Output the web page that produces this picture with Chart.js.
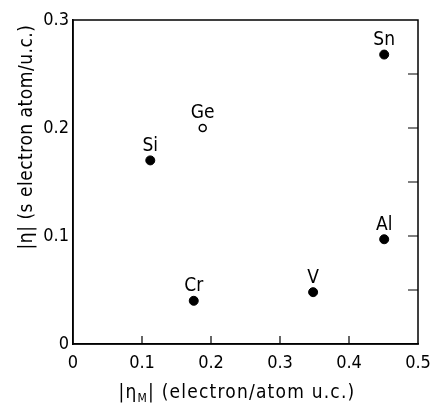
<!DOCTYPE html>
<html>
<head>
<meta charset="utf-8">
<script src="https://cdn.jsdelivr.net/npm/chart.js@4"></script>
<style>
  html, body { margin: 0; padding: 0; background: #fff; }
  canvas { display: block; }
</style>
</head>
<body>
<canvas id="chart" width="430" height="404"></canvas>
<script>
// element names and their values
const elements = ['Si', 'Ge', 'Cr', 'V', 'Al', 'Sn'];
const etaM = [0.112, 0.188, 0.175, 0.348, 0.451, 0.451];
const eta = [0.170, 0.200, 0.040, 0.048, 0.097, 0.268];
const openMarker = [false, true, false, false, false, false];

const xTicks = [0, 0.1, 0.2, 0.3, 0.4, 0.5];
const yTicks = [0, 0.1, 0.2, 0.3];
const yMinorTicks = [0.05, 0.1, 0.15, 0.2, 0.25];

const FONT = '"DejaVu Sans Condensed", "DejaVu Sans", sans-serif';

function pointsFor(open) {
    const pts = [];
    for (let i = 0; i < elements.length; i++) {
        if (openMarker[i] === open) pts.push({ x: etaM[i], y: eta[i], name: elements[i] });
    }
    return pts;
}

function fmt(v) {
    return v === 0 ? '0' : v.toFixed(1);
}

function drawParts(ctx, parts, cx, baseY, spacing) {
    let total = 0;
    ctx.letterSpacing = spacing + 'px';
    parts.forEach(p => {
        ctx.font = p.size + 'px ' + FONT;
        p.w = ctx.measureText(p.t).width;
        total += p.w;
    });
    let x = cx - total / 2;
    ctx.textAlign = 'left';
    ctx.textBaseline = 'alphabetic';
    parts.forEach(p => {
        ctx.font = p.size + 'px ' + FONT;
        ctx.fillText(p.t, x, baseY + p.dy);
        x += p.w;
    });
    ctx.letterSpacing = '0px';
}

// frame, inward ticks, point names and the axis titles
const decorations = {
    id: 'decorations',
    afterDraw(chart) {
        const ctx = chart.ctx;
        const area = chart.chartArea;
        const xs = chart.scales.x;
        const ys = chart.scales.y;
        ctx.save();
        ctx.strokeStyle = '#000';
        ctx.lineWidth = 1.5;
        ctx.strokeRect(area.left, area.top, area.right - area.left, area.bottom - area.top);

        ctx.lineWidth = 1.2;
        ctx.beginPath();
        xTicks.slice(1, -1).forEach(v => {
            const px = xs.getPixelForValue(v);
            ctx.moveTo(px, area.bottom);
            ctx.lineTo(px, area.bottom - 8);
        });
        yMinorTicks.forEach(v => {
            const py = ys.getPixelForValue(v);
            ctx.moveTo(area.right, py);
            ctx.lineTo(area.right - 10, py);
        });
        ctx.stroke();

        ctx.fillStyle = '#000';
        ctx.font = '19px ' + FONT;
        ctx.textAlign = 'center';
        ctx.textBaseline = 'bottom';
        chart.data.datasets.forEach((ds, di) => {
            const meta = chart.getDatasetMeta(di);
            meta.data.forEach((el, i) => {
                ctx.fillText(ds.data[i].name, el.x, el.y - 5);
            });
        });

        // x axis title: |η_M| (electron/atom u.c.)
        drawParts(ctx, [
            { t: '|η', size: 19, dy: 0 },
            { t: 'M', size: 12, dy: 4 },
            { t: '| (electron/atom u.c.)', size: 19, dy: 0 }
        ], 237, 398, 1.2);

        // y axis title, rotated
        ctx.save();
        ctx.translate(32, 137);
        ctx.rotate(-Math.PI / 2);
        drawParts(ctx, [{ t: '|η| (s electron atom/u.c.)', size: 19, dy: 0 }], 0, 0, 0.5);
        ctx.restore();
        ctx.restore();
    }
};

const ctx = document.getElementById('chart').getContext('2d');
new Chart(ctx, {
    type: 'scatter',
    data: {
        datasets: [{
            label: 'filled',
            data: pointsFor(false),
            pointRadius: 4.5,
            pointBackgroundColor: '#000',
            pointBorderColor: '#000',
            pointBorderWidth: 1
        }, {
            label: 'open',
            data: pointsFor(true),
            pointRadius: 3.5,
            pointBackgroundColor: '#fff',
            pointBorderColor: '#000',
            pointBorderWidth: 1.5
        }]
    },
    options: {
        responsive: false,
        animation: false,
        layout: { padding: { top: 20, right: 12, left: 0, bottom: 0 } },
        plugins: {
            legend: { display: false },
            tooltip: { enabled: false }
        },
        scales: {
            x: {
                type: 'linear',
                min: 0,
                max: 0.5,
                afterFit(scale) {
                    scale.height = 60;
                    scale.paddingLeft = 0;
                    scale.paddingRight = 0;
                },
                afterBuildTicks(scale) { scale.ticks = xTicks.map(v => ({ value: v })); },
                grid: { drawOnChartArea: false, drawTicks: false },
                border: { color: '#000', width: 1.5 },
                ticks: {
                    padding: 9,
                    color: '#000',
                    font: { family: FONT, size: 18 },
                    maxRotation: 0,
                    callback: v => fmt(v)
                }
            },
            y: {
                type: 'linear',
                min: 0,
                max: 0.3,
                afterFit(scale) {
                    scale.width = 73;
                    scale.paddingTop = 0;
                    scale.paddingBottom = 0;
                },
                afterBuildTicks(scale) { scale.ticks = yTicks.map(v => ({ value: v })); },
                grid: { drawOnChartArea: false, drawTicks: false },
                border: { color: '#000', width: 1.5 },
                ticks: {
                    padding: 4,
                    color: '#000',
                    font: { family: FONT, size: 18 },
                    callback: v => fmt(v)
                }
            }
        }
    },
    plugins: [decorations]
});
</script>
</body>
</html>
